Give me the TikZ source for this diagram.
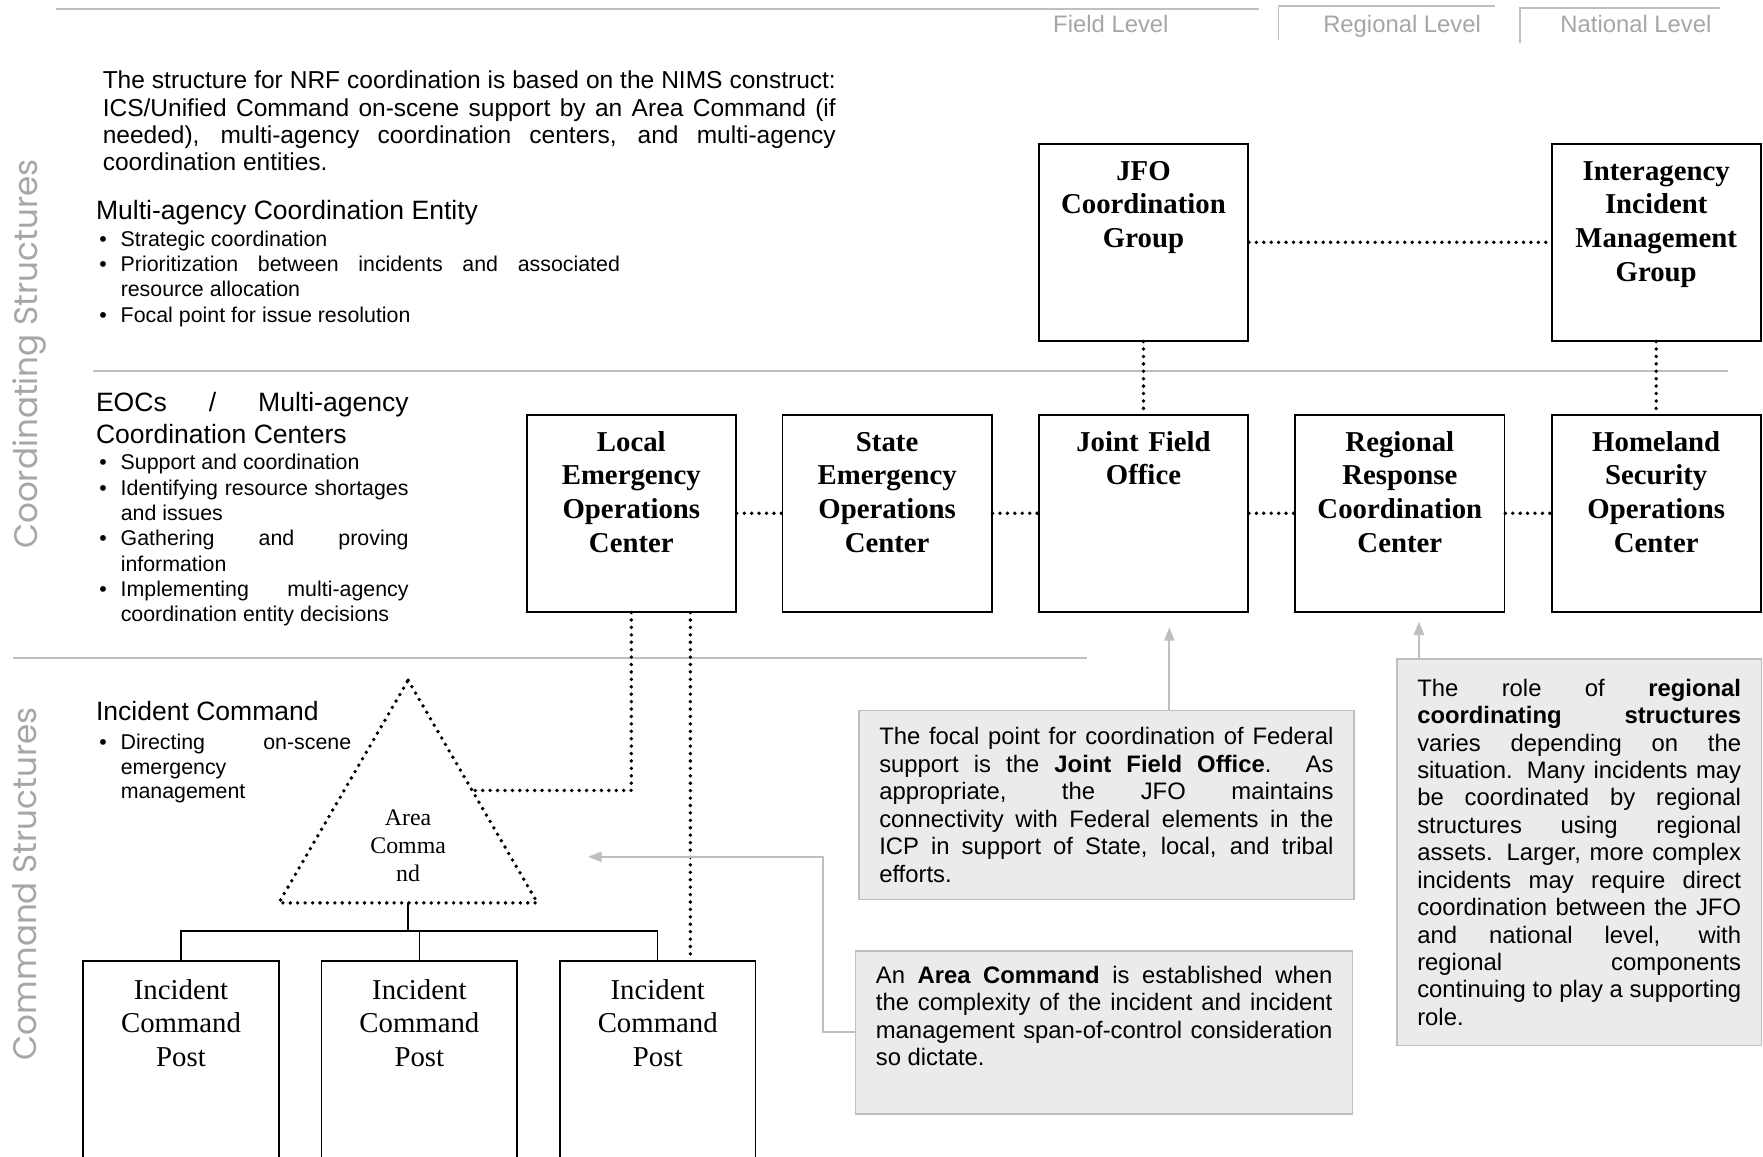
\documentclass[tikz,border=0pt]{standalone}
\usepackage{fontspec}
\setmainfont{Liberation Sans}
\newfontfamily\boxfont{Liberation Serif}
\newfontfamily\sidefont{Poppins}
\usetikzlibrary{arrows.meta,calc,positioning}
\definecolor{rulegray}{HTML}{BFBFBF}
\definecolor{labelgray}{HTML}{A6A6A6}
\definecolor{notefill}{HTML}{EBEBEB}
\tolerance=10000
\hyphenpenalty=10000
\exhyphenpenalty=10000
\newcommand\bitem{\hangindent=9.5pt\hangafter=1\noindent\makebox[9.5pt][l]{\textbullet}}
\tikzset{
  orgbox/.style={draw, line width=0.8pt, minimum width=93pt, minimum height=87.5pt, inner sep=0pt},
  boxlbl/.style={font=\boxfont\bfseries\fontsize{12.8}{15}\selectfont, text width=90pt, align=center, inner sep=0pt, anchor=base},
  icpbox/.style={draw, line width=0.8pt, minimum width=87pt, minimum height=110pt, inner sep=0pt, anchor=north},
  icplbl/.style={font=\boxfont\fontsize{12.8}{15}\selectfont, text width=85pt, align=center, inner sep=0pt, anchor=base},
  dotline/.style={line width=1.7pt, line cap=round, dash pattern=on 0pt off 3.3pt},
  notebox/.style={draw=rulegray, line width=0.7pt, fill=notefill, inner xsep=9pt, align=justify, font=\fontsize{10.6}{12.2}\selectfont},
  callarrow/.style={rulegray, line width=0.8pt, -{Triangle[length=6pt,width=4.5pt]}},
  rulesep/.style={rulegray, line width=0.8pt},
  lvltxt/.style={text=labelgray, font=\fontsize{10.6}{12}\selectfont, inner sep=0pt, anchor=base},
  sidelbl/.style={text=labelgray, font=\sidefont\fontsize{14.5}{16}\selectfont, inner sep=0pt, rotate=90},
  headtxt/.style={font=\fontsize{11.8}{14}\selectfont, inner sep=0pt, anchor=base west},
  listtxt/.style={font=\fontsize{9.5}{11.25}\selectfont, inner sep=0pt, anchor=base west, align=justify},
}
\begin{document}
\begin{tikzpicture}[x=0.5pt, y=-0.5pt]
\useasboundingbox (0,0) rectangle (1568,1029);
\clip (0,0) rectangle (1568,1029);

\draw[rulesep] (50,8) -- (1120,8);
\draw[rulesep] (1137,36) -- (1137,5) -- (1330,5);
\draw[rulesep] (1352,38) -- (1352,7) -- (1530,7);
\node (fieldlvl) at (988,29) [lvltxt] {Field Level};
\node (reglvl) at (1247,29) [lvltxt] {Regional Level};
\node (natlvl) at (1455,29) [lvltxt] {National Level};

\draw[rulesep] (83,330) -- (1537,330);
\draw[rulesep] (12,585) -- (967,585);
\node (coordlbl) at (26,315) [sidelbl] {Coordinating Structures};
\node (cmdlbl) at (22,786) [sidelbl] {Command Structures};

\node (intro) at (91,79) [anchor=base west, inner sep=0pt, text width=326pt, align=justify, font=\fontsize{10.9}{12.15}\selectfont] {The structure for NRF coordination is based on the NIMS construct:\linebreak ICS/Unified Command on-scene support by an Area Command (if\linebreak needed), multi-agency coordination centers, and multi-agency\linebreak coordination entities.};
\node (enthead) at (85,195.5) [headtxt] {Multi-agency Coordination Entity};
\node (entlist) at (88,219) [listtxt, text width=231.5pt] {\bitem Strategic coordination\par \bitem Prioritization between incidents and associated\linebreak resource allocation\par \bitem Focal point for issue resolution\par};
\node (eochead) at (85,366) [headtxt, text width=139pt, align=justify] {EOCs / Multi-agency\linebreak Coordination Centers};
\node (eoclist) at (88,418) [listtxt, text width=137.5pt] {\bitem Support and coordination\par \bitem Identifying resource shortages\linebreak and issues\par \bitem Gathering and proving\linebreak information\par \bitem Implementing multi-agency\linebreak coordination entity decisions\par};
\node (ichead) at (85,641) [headtxt] {Incident Command};
\node (iclist) at (88,667) [listtxt, text width=112pt, font=\fontsize{9.5}{10.75}\selectfont] {\bitem Directing on-scene\linebreak emergency\linebreak management\par};

\node (jfocg) at (1017,215.5) [orgbox] {};
\node (iimg) at (1473,215.5) [orgbox] {};
\node (leoc) at (561.5,456.5) [orgbox] {};
\node (seoc) at (789,456.5) [orgbox] {};
\node (jfo) at (1017,456.5) [orgbox] {};
\node (rrcc) at (1245,456.5) [orgbox] {};
\node (hsoc) at (1473,456.5) [orgbox] {};
\node (jfocg-t) at ($(jfocg.north)+(0,33)$) [boxlbl] {JFO\\Coordination\\Group};
\node (iimg-t) at ($(iimg.north)+(0,33)$) [boxlbl] {Interagency\\Incident\\Management\\Group};
\node (leoc-t) at ($(leoc.north)+(0,33)$) [boxlbl] {Local\\Emergency\\Operations\\Center};
\node (seoc-t) at ($(seoc.north)+(0,33)$) [boxlbl] {State\\Emergency\\Operations\\Center};
\node (jfo-t) at ($(jfo.north)+(0,33)$) [boxlbl] {Joint Field\\Office};
\node (rrcc-t) at ($(rrcc.north)+(0,33)$) [boxlbl] {Regional\\Response\\Coordination\\Center};
\node (hsoc-t) at ($(hsoc.north)+(0,33)$) [boxlbl] {Homeland\\Security\\Operations\\Center};

\node (icpa) at (161,854) [icpbox] {};
\node (icpb) at (373,854) [icpbox] {};
\node (icpc) at (585,854) [icpbox] {};
\node (icpa-t) at ($(icpa.north)+(0,34.5)$) [icplbl] {Incident\\Command\\Post};
\node (icpb-t) at ($(icpb.north)+(0,34.5)$) [icplbl] {Incident\\Command\\Post};
\node (icpc-t) at ($(icpc.north)+(0,34.5)$) [icplbl] {Incident\\Command\\Post};

\coordinate (ac-top) at (363,605);
\coordinate (ac-left) at (248,803);
\coordinate (ac-right) at (478,803);
\coordinate (ac-base) at (363,803);
\coordinate (bus) at (363,828);
\draw[dotline] (ac-top) -- (ac-right) -- (ac-left) -- cycle;
\node (ac) at (363,734) [font=\boxfont\fontsize{10.6}{12.5}\selectfont, text width=40pt, align=center, inner sep=0pt, anchor=base] {Area\\Comma\\nd};
\draw[line width=0.6pt] (ac-base) -- (bus);
\draw[line width=0.6pt] (icpa.north) |- (bus) -| (icpc.north);
\draw[line width=0.6pt] (icpb.north) -- (icpb.north |- bus);

\draw[dotline] (leoc) -- (seoc);
\draw[dotline] (seoc) -- (jfo);
\draw[dotline] (jfo) -- (rrcc);
\draw[dotline] (rrcc) -- (hsoc);
\draw[dotline] (jfocg) -- (iimg);
\draw[dotline] (jfocg) -- (jfo);
\draw[dotline] (iimg) -- (hsoc);
\coordinate (ac-e) at ($(ac-top)!0.495!(ac-right)$);
\draw[dotline] (leoc.south) |- (ac-e);
\coordinate (ld2) at ($(leoc.south)+(52.5,0)$);
\draw[dotline] (ld2) -- (ld2 |- icpc.north);

\node (jfonote) at (984,716) [notebox, text width=202pt, minimum height=84pt] {The focal point for coordination of Federal\linebreak support is the \textbf{Joint Field Office}. As\linebreak appropriate, the JFO maintains\linebreak connectivity with Federal elements in the\linebreak ICP in support of State, local, and tribal\linebreak efforts.};
\node (acnote) at (982,845) [notebox, anchor=north, text width=203pt, inner ysep=6.7pt] {An \textbf{Area Command} is established when\linebreak the complexity of the incident and incident\linebreak management span-of-control consideration\linebreak so dictate.\rule[-14.8pt]{0pt}{14.8pt}};
\node (regnote) at (1404.5,758) [notebox, text width=144pt, minimum height=172pt] {The role of \textbf{regional}\linebreak \textbf{coordinating structures}\linebreak varies depending on the\linebreak situation. Many incidents may\linebreak be coordinated by regional\linebreak structures using regional\linebreak assets. Larger, more complex\linebreak incidents may require direct\linebreak coordination between the JFO\linebreak and national level, with\linebreak regional components\linebreak continuing to play a supporting\linebreak role.};

\coordinate (jfo-in) at ($(jfo.south)+(23,13)$);
\coordinate (rrcc-in) at ($(rrcc.south)+(17,8)$);
\coordinate (ac-pt) at (523,762);
\draw[callarrow] ($(jfonote.north)+(56,0)$) -- (jfo-in);
\draw[callarrow] ($(regnote.north)+(-142.5,0)$) -- (rrcc-in);
\draw[callarrow] (acnote.west) -- ++(-28,0) |- (ac-pt);
\end{tikzpicture}
\end{document}
